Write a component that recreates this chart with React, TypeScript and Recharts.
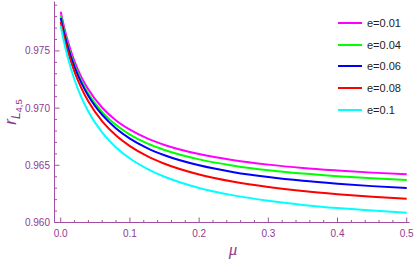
import { LineChart, Line, XAxis, YAxis } from "recharts";

// mu sample points
const mu = [0, 0.005, 0.01, 0.02, 0.03, 0.04, 0.06, 0.08, 0.1, 0.125, 0.15, 0.2, 0.25, 0.3, 0.35, 0.4, 0.45, 0.5];

// r_L4,5 values
const e001 = [0.97843, 0.97705, 0.9759, 0.97407, 0.97269, 0.97162, 0.97003, 0.96892, 0.96811, 0.96735, 0.96678, 0.96598, 0.96544, 0.96506, 0.96477, 0.96455, 0.96436, 0.96422];
const e004 = [0.97814, 0.97676, 0.97559, 0.97375, 0.97235, 0.97125, 0.96964, 0.96852, 0.96769, 0.96691, 0.96634, 0.96552, 0.96497, 0.96457, 0.96428, 0.96405, 0.96386, 0.96371];
const e006 = [0.97788, 0.97655, 0.97541, 0.97358, 0.97218, 0.97106, 0.9694, 0.96822, 0.96734, 0.96651, 0.96588, 0.965, 0.9644, 0.96397, 0.96364, 0.96339, 0.96318, 0.96301];
const e008 = [0.97753, 0.97618, 0.97503, 0.97317, 0.97172, 0.97057, 0.96884, 0.9676, 0.96668, 0.9658, 0.96514, 0.9642, 0.96356, 0.9631, 0.96275, 0.96248, 0.96226, 0.96208];
const e010 = [0.97718, 0.97571, 0.97446, 0.97246, 0.97091, 0.96968, 0.96785, 0.96656, 0.96559, 0.96469, 0.964, 0.96302, 0.96237, 0.9619, 0.96154, 0.96126, 0.96104, 0.96085];

const seriesNames = ["e=0.01", "e=0.04", "e=0.06", "e=0.08", "e=0.1"];
const seriesColors = ["#ff00ff", "#00ff00", "#0000ff", "#ff0000", "#00ffff"];
const seriesValues = [e001, e004, e006, e008, e010];

const xTicks = [0, 0.02, 0.04, 0.06, 0.08, 0.1, 0.12, 0.14, 0.16, 0.18, 0.2, 0.22, 0.24, 0.26, 0.28, 0.3, 0.32, 0.34, 0.36, 0.38, 0.4, 0.42, 0.44, 0.46, 0.48, 0.5];
const yTicks = [0.96, 0.961, 0.962, 0.963, 0.964, 0.965, 0.966, 0.967, 0.968, 0.969, 0.97, 0.971, 0.972, 0.973, 0.974, 0.975, 0.976, 0.977, 0.978, 0.979];

const data = mu.map((m, i) => {
  const row: any = { mu: m };
  seriesNames.forEach((n, j) => { row[n] = seriesValues[j][i]; });
  return row;
});

const FRAME = "#a24fa2";
const LABEL = "#8e3b8e";
const FONT = "'Liberation Sans', Arial, sans-serif";

const xMajor = (v: number) => Math.abs(v * 10 - Math.round(v * 10)) < 1e-6;
const yMajor = (v: number) => Math.abs(v * 200 - Math.round(v * 200)) < 1e-6;

function BottomTick({ x, y, payload }: any) {
  const major = xMajor(payload.value);
  return (
    <g>
      <line x1={x} x2={x} y1={y} y2={y - (major ? 5 : 2.5)} stroke={FRAME} />
      {major && <text x={x} y={y + 14} textAnchor="middle" fill={LABEL} fontSize={10} fontFamily={FONT}>{payload.value.toFixed(1)}</text>}
    </g>
  );
}

function TopTick({ x, y, payload }: any) {
  const major = xMajor(payload.value);
  return <line x1={x} x2={x} y1={y} y2={y + (major ? 5 : 2.5)} stroke={FRAME} />;
}

function LeftTick({ x, y, payload }: any) {
  const major = yMajor(payload.value);
  return (
    <g>
      <line x1={x} x2={x + (major ? 5 : 2.5)} y1={y} y2={y} stroke={FRAME} />
      {major && <text x={x - 4.5} y={y + 3.5} textAnchor="end" fill={LABEL} fontSize={10} fontFamily={FONT}>{payload.value.toFixed(3)}</text>}
    </g>
  );
}

function RightTick({ x, y, payload }: any) {
  const major = yMajor(payload.value);
  return <line x1={x} x2={x - (major ? 5 : 2.5)} y1={y} y2={y} stroke={FRAME} />;
}

function YTitle() {
  return (
    <text transform="translate(16,112) rotate(-90)" textAnchor="middle" fill={LABEL} fontFamily={FONT} fontStyle="italic">
      <tspan fontSize={17}>r</tspan>
      <tspan fontSize={12} dy={4}>L</tspan>
      <tspan fontSize={9.5} fontStyle="normal" dy={1.5}>4,5</tspan>
    </text>
  );
}

function XTitle() {
  return (
    <text x={233} y={255} textAnchor="middle" fill={LABEL} fontSize={17} fontStyle="italic" fontFamily="'Liberation Serif', serif">μ</text>
  );
}

export default function App() {
  return (
    <div style={{ position: "absolute", left: 0, top: 0, width: 415, height: 259, background: "#fff" }}>
      <LineChart width={415} height={259} data={data} margin={{ top: 1.5, right: 5.5, bottom: 0, left: 0.5 }}>
        <XAxis xAxisId="b" dataKey="mu" type="number" domain={[-0.009, 0.504]} allowDataOverflow ticks={xTicks}
          interval={0} tickSize={0} tickMargin={0} height={36.5} stroke={FRAME} tick={<BottomTick />} label={<XTitle />} />
        <XAxis xAxisId="t" orientation="top" dataKey="mu" type="number" domain={[-0.009, 0.504]} allowDataOverflow ticks={xTicks}
          interval={0} tickSize={0} tickMargin={0} height={0} stroke={FRAME} tick={<TopTick />} />
        <YAxis yAxisId="l" type="number" domain={[0.96, 0.97932]} allowDataOverflow ticks={yTicks}
          interval={0} tickSize={0} tickMargin={0} width={54} stroke={FRAME} tick={<LeftTick />} label={<YTitle />} />
        <YAxis yAxisId="r" orientation="right" type="number" domain={[0.96, 0.97932]} allowDataOverflow ticks={yTicks}
          interval={0} tickSize={0} tickMargin={0} width={0} stroke={FRAME} tick={<RightTick />} />
        {seriesNames.map((n, i) => (
          <Line key={n} xAxisId="b" yAxisId="l" type="monotone" dataKey={n} stroke={seriesColors[i]} strokeWidth={2}
            dot={false} isAnimationActive={false} />
        ))}
      </LineChart>
      {/* legend */}
      <div style={{ position: "absolute", left: 338, top: 12 }}>
        {seriesNames.map((n, i) => (
          <div key={n} style={{ display: "flex", alignItems: "center", height: 21.7 }}>
            <div style={{ width: 24, height: 2, background: seriesColors[i] }} />
            <span style={{ marginLeft: 5, fontSize: 11, fontFamily: FONT, color: "#222" }}>{n}</span>
          </div>
        ))}
      </div>
    </div>
  );
}
